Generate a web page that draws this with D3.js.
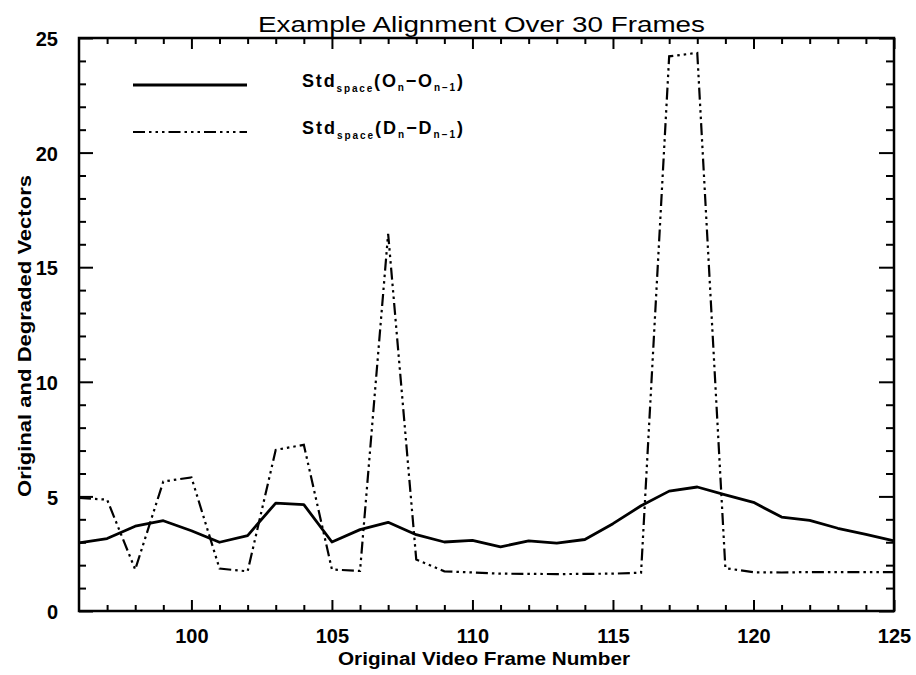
<!DOCTYPE html>
<html><head><meta charset="utf-8">
<script src="https://cdn.jsdelivr.net/npm/d3@7"></script>
<style>body{margin:0;background:#fff}</style>
</head><body>
<script>
const frames = [96,97,98,99,100,101,102,103,104,105,106,107,108,109,110,111,112,113,114,115,116,117,118,119,120,121,122,123,124,125];
const stdOrig = [2.97,3.16,3.7,3.94,3.5,3.0,3.29,4.71,4.64,3.01,3.55,3.87,3.33,3.01,3.08,2.8,3.06,2.96,3.12,3.81,4.59,5.23,5.41,5.07,4.74,4.10,3.95,3.61,3.34,3.06];
const stdDegr = [4.93,4.86,1.81,5.65,5.83,1.85,1.73,7.03,7.25,1.81,1.75,16.46,2.25,1.73,1.68,1.63,1.62,1.61,1.62,1.63,1.67,24.2,24.35,1.87,1.69,1.68,1.70,1.70,1.70,1.70];
const xMajorTicks = [100,105,110,115,120,125];
const yMajorTicks = [0,5,10,15,20,25];
const titleText = "Example Alignment Over 30 Frames";
const xLabel = "Original Video Frame Number";
const yLabel = "Original and Degraded Vectors";

const W = 916, H = 675;
const L = 79, R = 894, T = 38, B = 611;
const svg = d3.select("body").append("svg").attr("width", W).attr("height", H)
  .style("font-family", "'Liberation Sans', Arial, sans-serif");

const x = d3.scaleLinear().domain([96,125]).range([L,R]);
const y = d3.scaleLinear().domain([0,25]).range([B,T]);

const xMinor = d3.range(97,125);
const yMinor = d3.range(1,25);

function styleAxis(g){ g.select(".domain").remove(); g.selectAll("line").attr("stroke","#000").attr("stroke-width",2); }
// bottom
svg.append("g").attr("transform",`translate(0,${B})`)
  .call(d3.axisBottom(x).tickValues(xMinor.filter(v=>v%5)).tickSize(-6).tickFormat(""))
  .call(styleAxis);
svg.append("g").attr("transform",`translate(0,${B})`)
  .call(d3.axisBottom(x).tickValues(xMajorTicks).tickSize(-11).tickPadding(18).tickFormat(d3.format("d")))
  .call(styleAxis)
  .call(g=>g.selectAll("text").attr("font-size",20).attr("font-weight","bold").attr("fill","#000"));
// top
svg.append("g").attr("transform",`translate(0,${T})`)
  .call(d3.axisTop(x).tickValues(xMinor.filter(v=>v%5)).tickSize(-6).tickFormat(""))
  .call(styleAxis);
svg.append("g").attr("transform",`translate(0,${T})`)
  .call(d3.axisTop(x).tickValues(xMajorTicks).tickSize(-11).tickFormat(""))
  .call(styleAxis);
// left
svg.append("g").attr("transform",`translate(${L},0)`)
  .call(d3.axisLeft(y).tickValues(yMinor.filter(v=>v%5)).tickSize(-7).tickFormat(""))
  .call(styleAxis);
svg.append("g").attr("transform",`translate(${L},0)`)
  .call(d3.axisLeft(y).tickValues(yMajorTicks).tickSize(-14).tickPadding(21).tickFormat(d3.format("d")))
  .call(styleAxis)
  .call(g=>g.selectAll("text").attr("font-size",20).attr("font-weight","bold").attr("fill","#000").attr("dy","0.38em"));
// right
svg.append("g").attr("transform",`translate(${R},0)`)
  .call(d3.axisRight(y).tickValues(yMinor.filter(v=>v%5)).tickSize(-8).tickFormat(""))
  .call(styleAxis);
svg.append("g").attr("transform",`translate(${R},0)`)
  .call(d3.axisRight(y).tickValues(yMajorTicks).tickSize(-15).tickFormat(""))
  .call(styleAxis);

// frame
svg.append("rect").attr("x",L).attr("y",T).attr("width",R-L).attr("height",B-T)
  .attr("fill","none").attr("stroke","#000").attr("stroke-width",2.5);

// lines
const line = d3.line().x((d,i)=>x(frames[i])).y(d=>y(d));
svg.append("path").datum(stdOrig).attr("d",line).attr("fill","none")
  .attr("stroke","#000").attr("stroke-width",2.8).attr("stroke-linejoin","round");
const dashPat = "12,4,2.5,4,2.5,4,2.5,4";
svg.append("path").datum(stdDegr).attr("d",line).attr("fill","none")
  .attr("stroke","#000").attr("stroke-width",2.2).attr("stroke-dasharray",dashPat);

// title
svg.append("text").attr("x",481.5).attr("y",32).attr("text-anchor","middle")
  .attr("font-size",22).attr("textLength",447).attr("lengthAdjust","spacingAndGlyphs")
  .text(titleText);
// x label
svg.append("text").attr("x",484).attr("y",665).attr("text-anchor","middle")
  .attr("font-size",18).attr("font-weight","bold").attr("textLength",292).attr("lengthAdjust","spacingAndGlyphs")
  .text(xLabel);
// y label
svg.append("text").attr("transform","translate(31,336) rotate(-90)").attr("text-anchor","middle")
  .attr("font-size",19).attr("font-weight","bold").attr("textLength",322).attr("lengthAdjust","spacingAndGlyphs")
  .text(yLabel);

// legend
const legend = [
  {y:85, dash:null, w:2.8, a:"O"},
  {y:132, dash:dashPat, w:2.2, a:"D"}
];
legend.forEach(l=>{
  svg.append("line").attr("x1",133).attr("x2",247).attr("y1",l.y).attr("y2",l.y)
    .attr("stroke","#000").attr("stroke-width",l.w).attr("stroke-dasharray",l.dash);
  const t = svg.append("text").attr("x",302).attr("y",l.y+2).attr("font-size",18).attr("font-weight","bold")
    .attr("textLength",161).attr("lengthAdjust","spacing");
  t.append("tspan").text("Std");
  t.append("tspan").attr("font-size",10).attr("dy",5).text("space");
  t.append("tspan").attr("dy",-5).text("("+l.a);
  t.append("tspan").attr("font-size",10).attr("dy",4).text("n");
  t.append("tspan").attr("dy",-4).text("\u2212"+l.a);
  t.append("tspan").attr("font-size",10).attr("dy",4).text("n\u22121");
  t.append("tspan").attr("dy",-4).text(")");
});
</script>
</body></html>
